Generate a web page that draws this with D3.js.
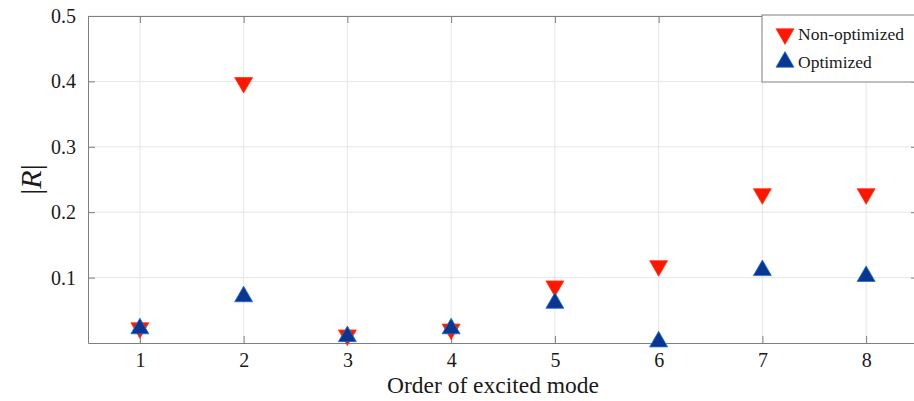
<!DOCTYPE html>
<html>
<head>
<meta charset="utf-8">
<script src="https://cdn.jsdelivr.net/npm/d3@7"></script>
<style>
body { margin: 0; background: #fff; }
text { font-family: "Liberation Serif", "Times New Roman", serif; fill: #1a1a1a; }
</style>
</head>
<body>
<svg id="chart" width="914" height="401"></svg>
<script>
// data
var modes = [1, 2, 3, 4, 5, 6, 7, 8];
var nonOptimized = [0.023, 0.398, 0.012, 0.021, 0.087, 0.118, 0.228, 0.228];
var optimized = [0.022, 0.071, 0.010, 0.022, 0.061, 0.002, 0.111, 0.102];
var yTicks = [0.1, 0.2, 0.3, 0.4, 0.5];

var margin = { top: 16, right: -4, bottom: 58, left: 88 },
    width = 914 - margin.left - margin.right,
    height = 401 - margin.top - margin.bottom;

var xScale = d3.scaleLinear().domain([0.5, 8.5]).range([0, width]);
var yScale = d3.scaleLinear().domain([0, 0.5]).range([height, 0]);

var svg = d3.select("#chart")
    .append("g")
    .attr("transform", "translate(" + margin.left + "," + margin.top + ")");

// grid
svg.selectAll(".gx").data(modes).enter().append("line")
    .attr("x1", d => xScale(d)).attr("x2", d => xScale(d))
    .attr("y1", 0).attr("y2", height)
    .attr("stroke", "#e6e6e6").attr("stroke-width", 1);
svg.selectAll(".gy").data(yTicks).enter().append("line")
    .attr("x1", 0).attr("x2", width)
    .attr("y1", d => yScale(d)).attr("y2", d => yScale(d))
    .attr("stroke", "#e6e6e6").attr("stroke-width", 1);

// axes
var xAxis = d3.axisBottom(xScale).tickValues(modes).tickFormat(d3.format("d"))
    .tickSizeInner(-7).tickSizeOuter(0).tickPadding(10);
var yAxis = d3.axisLeft(yScale).tickValues(yTicks).tickFormat(d3.format(".1f"))
    .tickSizeInner(-7).tickSizeOuter(0).tickPadding(12);
var xTop = d3.axisTop(xScale).tickValues(modes).tickFormat("")
    .tickSizeInner(-7).tickSizeOuter(0);
var yRight = d3.axisRight(yScale).tickValues(yTicks).tickFormat("")
    .tickSizeInner(-7).tickSizeOuter(0);

function styleAxis(g) {
    g.select(".domain").attr("stroke", "#7f7f7f");
    g.selectAll(".tick line").attr("stroke", "#7f7f7f");
    g.selectAll(".tick text").style("font-size", "20px")
        .style("font-family", "Liberation Serif, serif").attr("fill", "#1a1a1a");
}
svg.append("g").attr("transform", "translate(0," + height + ")").call(xAxis).call(styleAxis);
svg.append("g").call(yAxis).call(styleAxis);
svg.append("g").call(xTop).call(styleAxis);
svg.append("g").attr("transform", "translate(" + width + ",0)").call(yRight).call(styleAxis);

// labels
svg.append("text")
    .attr("x", (xScale(0.5) + xScale(8.5)) / 2 - 10)
    .attr("y", height + 50)
    .attr("text-anchor", "middle")
    .style("font-size", "23.5px")
    .text("Order of excited mode");

var yl = svg.append("text")
    .attr("transform", "translate(-47," + (height / 2) + ") rotate(-90)")
    .attr("text-anchor", "middle")
    .style("font-size", "30px");
yl.append("tspan").text("|");
yl.append("tspan").style("font-style", "italic").text("R");
yl.append("tspan").text("|");

// markers
var tri = d3.symbol().type(d3.symbolTriangle).size(140);
svg.selectAll(".nonopt").data(modes).enter().append("path")
    .attr("d", tri)
    .attr("transform", (d, i) => "translate(" + xScale(d) + "," + yScale(nonOptimized[i]) + ") rotate(180)")
    .attr("fill", "#ff1500").attr("stroke", "#ff3a10").attr("stroke-width", 0.8);
svg.selectAll(".opt").data(modes).enter().append("path")
    .attr("d", tri)
    .attr("transform", (d, i) => "translate(" + xScale(d) + "," + yScale(optimized[i]) + ")")
    .attr("fill", "#0a3591").attr("stroke", "#1f6fd0").attr("stroke-width", 0.8);

// legend
var lg = svg.append("g").attr("transform", "translate(" + (width - 156) + ",-1)");
lg.append("rect").attr("x", 0).attr("y", 0).attr("width", 170).attr("height", 67)
    .attr("fill", "#fff").attr("stroke", "#7f7f7f");
lg.append("path").attr("d", tri).attr("transform", "translate(23,19) rotate(180)")
    .attr("fill", "#ff1500").attr("stroke", "#ff3a10").attr("stroke-width", 0.8);
lg.append("path").attr("d", tri).attr("transform", "translate(23,47)")
    .attr("fill", "#0a3591").attr("stroke", "#1f6fd0").attr("stroke-width", 0.8);
lg.append("text").attr("x", 36).attr("y", 25).style("font-size", "17.5px").text("Non-optimized");
lg.append("text").attr("x", 36).attr("y", 53).style("font-size", "17.5px").text("Optimized");
</script>
</body>
</html>
